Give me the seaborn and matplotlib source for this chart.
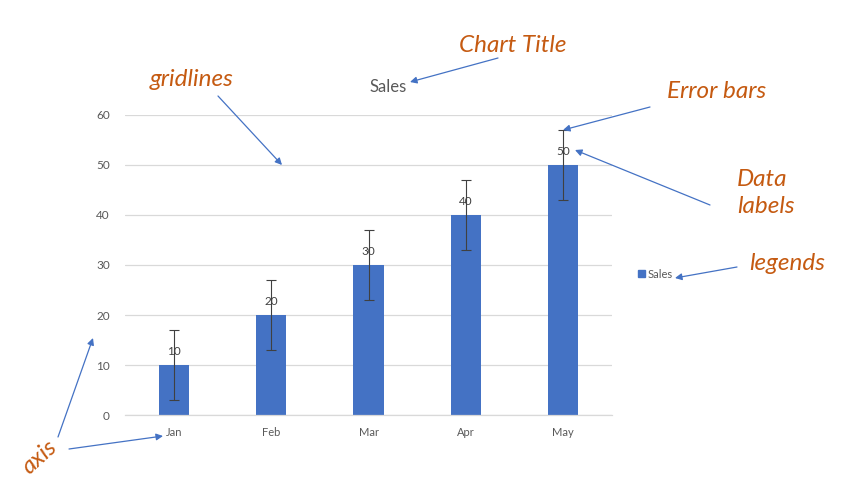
import pandas as pd
import matplotlib.pyplot as plt
import seaborn as sns
from matplotlib.patches import Patch

# Данные графика
months = ["Jan", "Feb", "Mar", "Apr", "May"]
sales = [10, 20, 30, 40, 50]
errors = [7, 7, 7, 7, 7]
y_ticks = [0, 10, 20, 30, 40, 50, 60]

df = pd.DataFrame({"month": months, "sales": sales})

sns.set_theme(style="white")
plt.rcParams['font.family'] = ['Lato', 'DejaVu Sans']

W, H = 850, 495
fig = plt.figure(figsize=(W / 100, H / 100), dpi=100)
ax = fig.add_axes([125 / W, 1 - 415 / H, (612 - 125) / W, (415 - 115) / H])

blue = "#4472C4"
gray = "#595959"
grid = "#D9D9D9"
orange = "#C55A11"

sns.barplot(data=df, x="month", y="sales", color=blue, width=0.31,
            saturation=1, linewidth=0, ax=ax)
ax.errorbar(months, sales, yerr=errors, fmt="none", ecolor="#404040",
            elinewidth=0.8, capsize=3.5, capthick=0.8, zorder=3)
ax.bar_label(ax.containers[0], padding=6, fontsize=8.5, color="#404040")

ax.set_xlim(-0.5, len(months) - 0.5)
ax.set_ylim(0, 60)
ax.set_yticks(y_ticks)
ax.yaxis.grid(True, color=grid, linewidth=0.9)
ax.set_axisbelow(True)
ax.set_xlabel("")
ax.set_ylabel("")
ax.tick_params(axis="y", length=0, pad=11, labelsize=8.5, labelcolor=gray)
ax.tick_params(axis="x", length=0, pad=9, labelsize=8, labelcolor=gray)
for s in ["top", "right", "left"]:
    ax.spines[s].set_visible(False)
ax.spines["bottom"].set_color(grid)
ax.spines["bottom"].set_linewidth(0.9)

# Заголовок
fig.text(388 / W, 1 - 87 / H, "Sales", ha="center", va="center",
         fontsize=12, color=gray)

# Легенда
ax.legend(handles=[Patch(color=blue, label="Sales")], loc="center left",
          bbox_to_anchor=(628 / W, 1 - 274 / H), bbox_transform=fig.transFigure,
          frameon=False, fontsize=8, handlelength=0.6, handleheight=0.6,
          handletextpad=0.3, labelcolor=gray)

# Пояснения со стрелками
def px(x, y):
    return (x / W, 1 - y / H)

arrow = dict(arrowstyle="-|>", color=blue, lw=0.9, mutation_scale=10,
             shrinkA=0, shrinkB=0)

notes = [
    ("Chart Title", (513, 46), (498, 58), (410, 82)),
    ("gridlines", (192, 80), (218, 96), (282, 165)),
    ("Error bars", (717, 91), (650, 107), (563, 130)),
    ("legends", (787, 263), (737, 267), (675, 278)),
]
for text, pos, start, tip in notes:
    fig.text(*px(*pos), text, ha="center", va="center", fontsize=17.5,
             style="italic", color=orange)
    ax.annotate("", xy=px(*tip), xytext=px(*start), xycoords="figure fraction",
                textcoords="figure fraction", arrowprops=arrow)

fig.text(*px(737, 193), "Data\nlabels", ha="left", va="center", fontsize=17.5,
         style="italic", color=orange, linespacing=1.4)
ax.annotate("", xy=px(575, 150), xytext=px(710, 205), xycoords="figure fraction",
            textcoords="figure fraction", arrowprops=arrow)

fig.text(*px(40, 457), "axis", ha="center", va="center", fontsize=17.5,
         style="italic", color=orange, rotation=42)
ax.annotate("", xy=px(93, 338), xytext=px(58, 437), xycoords="figure fraction",
            textcoords="figure fraction", arrowprops=arrow)
ax.annotate("", xy=px(163, 436), xytext=px(69, 449), xycoords="figure fraction",
            textcoords="figure fraction", arrowprops=arrow)

fig.savefig("out.png", dpi=100, facecolor="white")
